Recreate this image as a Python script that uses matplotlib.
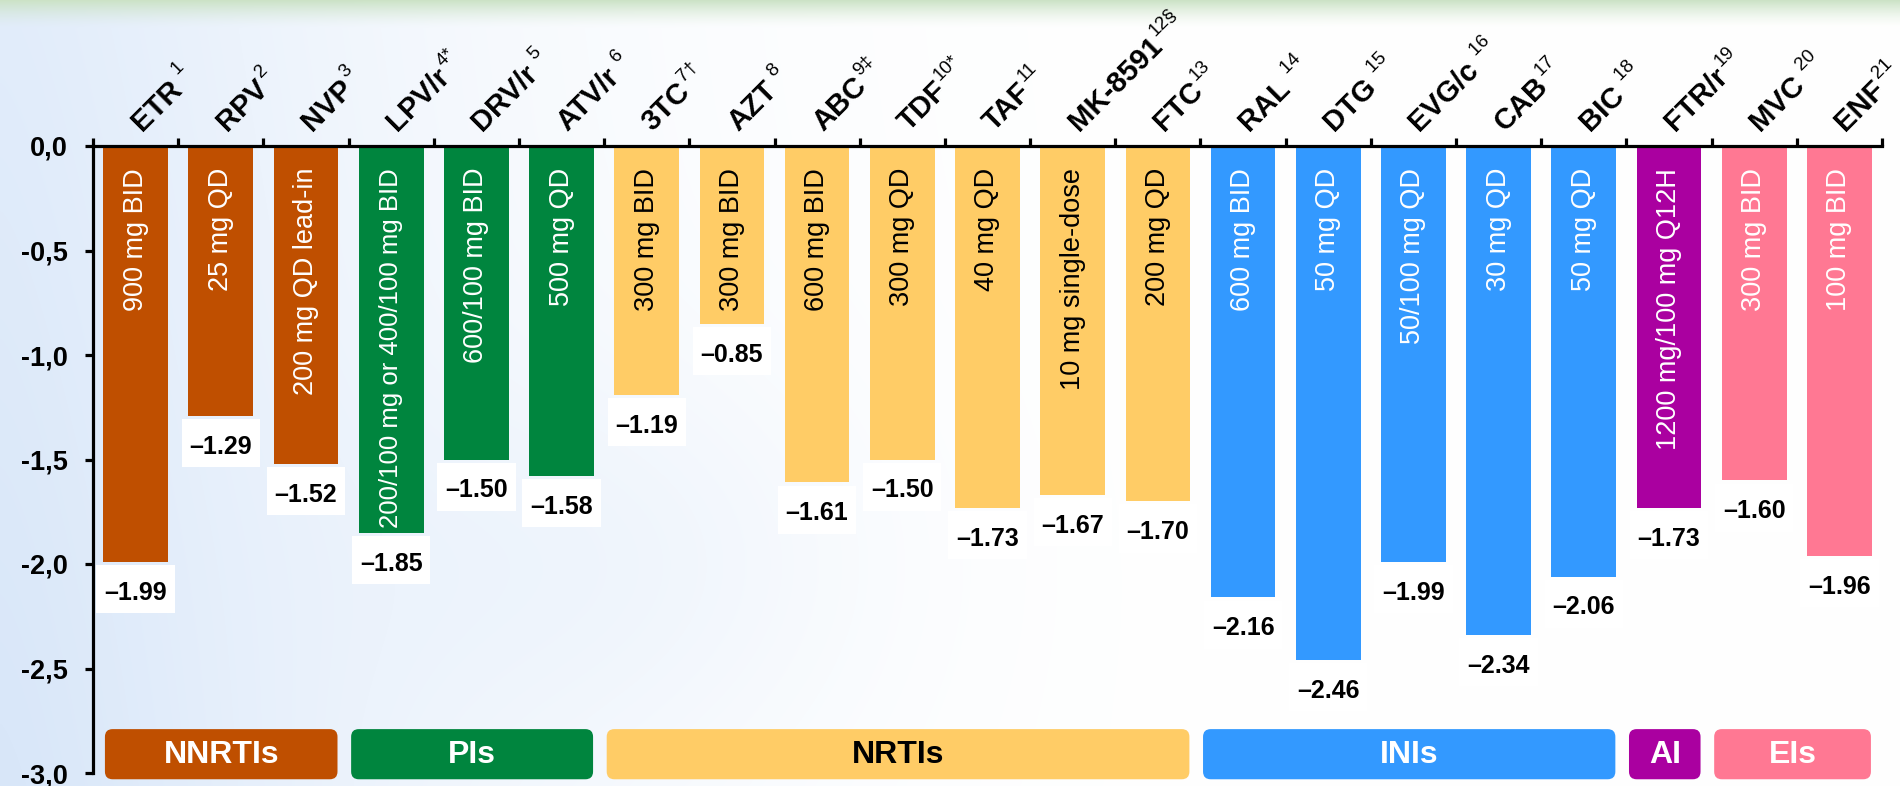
import numpy as np
import matplotlib
matplotlib.use("Agg")
import matplotlib.pyplot as plt
import matplotlib.transforms as mtransforms
from matplotlib.patches import FancyBboxPatch, Rectangle
from matplotlib.font_manager import FontProperties

plt.rcParams['font.family'] = ['Liberation Sans', 'DejaVu Sans']

# ---- data -------------------------------------------------------------
drugs = ["ETR", "RPV", "NVP", "LPV/r", "DRV/r", "ATV/r", "3TC", "AZT", "ABC",
         "TDF", "TAF", "MK-8591", "FTC", "RAL", "DTG", "EVG/c", "CAB", "BIC",
         "FTR/r", "MVC", "ENF"]
refs = [" 1", "2", "3", "4*", " 5", " 6", "7†", " 8", "9‡", "10*", "11",
        "12§", "13", " 14", " 15", " 16", "17", " 18", "19", " 20", "21"]
doses = ["900 mg BID", "25 mg QD", "200 mg QD lead-in",
         "200/100 mg or 400/100 mg BID", "600/100 mg BID", "500 mg QD",
         "300 mg BID", "300 mg BID", "600 mg BID", "300 mg QD", "40 mg QD",
         "10 mg single-dose", "200 mg QD", "600 mg BID", "50 mg QD",
         "50/100 mg QD", "30 mg QD", "50 mg QD", "1200 mg/100 mg Q12H",
         "300 mg BID", "100 mg BID"]
log_change = [-1.99, -1.29, -1.52, -1.85, -1.50, -1.58, -1.19, -0.85, -1.61,
              -1.50, -1.73, -1.67, -1.70, -2.16, -2.46, -1.99, -2.34, -2.06,
              -1.73, -1.60, -1.96]
drug_class = ["NNRTIs", "NNRTIs", "NNRTIs", "PIs", "PIs", "PIs",
              "NRTIs", "NRTIs", "NRTIs", "NRTIs", "NRTIs", "NRTIs", "NRTIs",
              "INIs", "INIs", "INIs", "INIs", "INIs", "AI", "EIs", "EIs"]
classes = ["NNRTIs", "PIs", "NRTIs", "INIs", "AI", "EIs"]
class_colors = ["#BF4F00", "#00853E", "#FFCC66", "#3399FF", "#AA00A0", "#FF7893"]
class_text_colors = ["white", "white", "black", "white", "white", "white"]
y_ticks = [0.0, -0.5, -1.0, -1.5, -2.0, -2.5, -3.0]
y_tick_labels = ["0,0", "-0,5", "-1,0", "-1,5", "-2,0", "-2,5", "-3,0"]

W, H, DPI = 1900, 786, 100
fig = plt.figure(figsize=(W / DPI, H / DPI), dpi=DPI)

# ---- soft backdrop: bluish haze on the left, green band on top ---------
yy, xx = np.mgrid[0:H, 0:W]
img = np.ones((H, W, 3))
haze = np.array([0.81, 0.88, 0.97])
a = 0.80 * np.exp(-(xx / 430.0) ** 1.4) * (0.75 + 0.25 * yy / H)
a += 0.18 * np.exp(-((xx - 620) / 260.0) ** 2 - ((yy - 560) / 200.0) ** 2)
img = img * (1 - a[..., None]) + haze * a[..., None]
band = np.array([0.80, 0.89, 0.78])
g = np.clip(1 - yy / 28.0, 0, 1) ** 1.5
img = img * (1 - g[..., None]) + band * g[..., None]
bg = fig.add_axes([0, 0, 1, 1])
bg.imshow(img, aspect='auto', interpolation='bilinear')
bg.axis('off')

# ---- main axes ---------------------------------------------------------
x0_px, x1_px, y0_px, y1_px = 93, 1882, 146, 773
px_per_unit = (y1_px - y0_px) / 3.0
ax = fig.add_axes([x0_px / W, 1 - y1_px / H, (x1_px - x0_px) / W,
                   (y1_px - y0_px) / H])
ax.patch.set_alpha(0)
n = len(drugs)
xs = np.arange(n)
ax.set_xlim(-0.5, n - 0.5)
ax.set_ylim(-3.0, 0.0)

col_of = {c: col for c, col in zip(classes, class_colors)}
txt_of = {c: col for c, col in zip(classes, class_text_colors)}
bar_colors = [col_of[c] for c in drug_class]

ax.bar(xs, log_change, width=0.76, color=bar_colors, zorder=2)

for sp in ["bottom", "right"]:
    ax.spines[sp].set_visible(False)
for sp in ["top", "left"]:
    ax.spines[sp].set_linewidth(2.3)
    ax.spines[sp].set_color("black")
    ax.spines[sp].set_zorder(4)

ax.xaxis.tick_top()
ax.set_xticks(np.arange(-0.5, n, 1.0))
ax.tick_params(axis='x', direction='out', length=6, width=2.3, labeltop=False)
ax.set_yticks(y_ticks)
ax.set_yticklabels(y_tick_labels, fontsize=19.5, fontweight='bold')
ax.tick_params(axis='y', direction='out', length=6, width=2.3, pad=12)

# dose text inside the bars
dose_texts = []
for i, (dose, cls) in enumerate(zip(doses, drug_class)):
    t = ax.text(i, -0.105, dose, rotation=90, ha='center', va='top',
                fontsize=19.5, color=txt_of[cls], zorder=3)
    dose_texts.append(t)

# value labels in white boxes below each bar
for i, v in enumerate(log_change):
    ax.add_patch(Rectangle((i - 0.46, v - 0.245), 0.92, 0.23,
                           facecolor='white', edgecolor='none', zorder=2))
    ax.text(i, v - 0.148, "\u2013{:.2f}".format(abs(v)), ha='center',
            va='center', fontsize=18, fontweight='bold', zorder=3)

# drug class boxes along the bottom
aspect = (x1_px - x0_px) / n / px_per_unit
for cls, col, tcol in zip(classes, class_colors, class_text_colors):
    idx = [i for i, c in enumerate(drug_class) if c == cls]
    left = max(idx[0] - 0.47, -0.36)
    right = idx[-1] + 0.37
    top, bottom = -2.79, -3.03
    box = FancyBboxPatch((left, bottom), right - left, top - bottom,
                         boxstyle="round,pad=0,rounding_size=0.09",
                         mutation_aspect=aspect, facecolor=col,
                         edgecolor='none', clip_on=False, zorder=3)
    ax.add_patch(box)
    ax.text((left + right) / 2, (top + bottom) / 2 - 0.005, cls,
            ha='center', va='center', fontsize=23, fontweight='bold',
            color=tcol, zorder=4, clip_on=False,
            family=['Liberation Sans Narrow', 'Liberation Sans'])

fig.canvas.draw()
renderer = fig.canvas.get_renderer()

# shrink any dose text that would run past the end of its bar
for t, v in zip(dose_texts, log_change):
    avail = abs(v) * px_per_unit - 0.105 * px_per_unit - 5
    hgt = t.get_window_extent(renderer).height
    if hgt > avail:
        t.set_fontsize(t.get_fontsize() * avail / hgt)

# rotated drug names with reference superscripts
name_fp = FontProperties(family=['Liberation Sans'], weight='bold', size=21)
c = np.sqrt(0.5)
ox, oy = 6, 14
for i, (name, ref) in enumerate(zip(drugs, refs)):
    w, h, d = renderer.get_text_width_height_descent(name, name_fp, ismath=False)
    tr = ax.transData + mtransforms.ScaledTranslation(ox / DPI, oy / DPI,
                                                      fig.dpi_scale_trans)
    ax.text(i, 0, name, rotation=45, rotation_mode='anchor', ha='left',
            va='baseline', fontproperties=name_fp, transform=tr, clip_on=False)
    along, up = w + 2, 14
    dx = (along - up) * c
    dy = (along + up) * c
    tr2 = ax.transData + mtransforms.ScaledTranslation((ox + dx) / DPI,
                                                       (oy + dy) / DPI,
                                                       fig.dpi_scale_trans)
    ax.text(i, 0, ref, rotation=45, rotation_mode='anchor', ha='left',
            va='baseline', fontsize=13.5, transform=tr2, clip_on=False)

fig.savefig("out.png", dpi=DPI)
